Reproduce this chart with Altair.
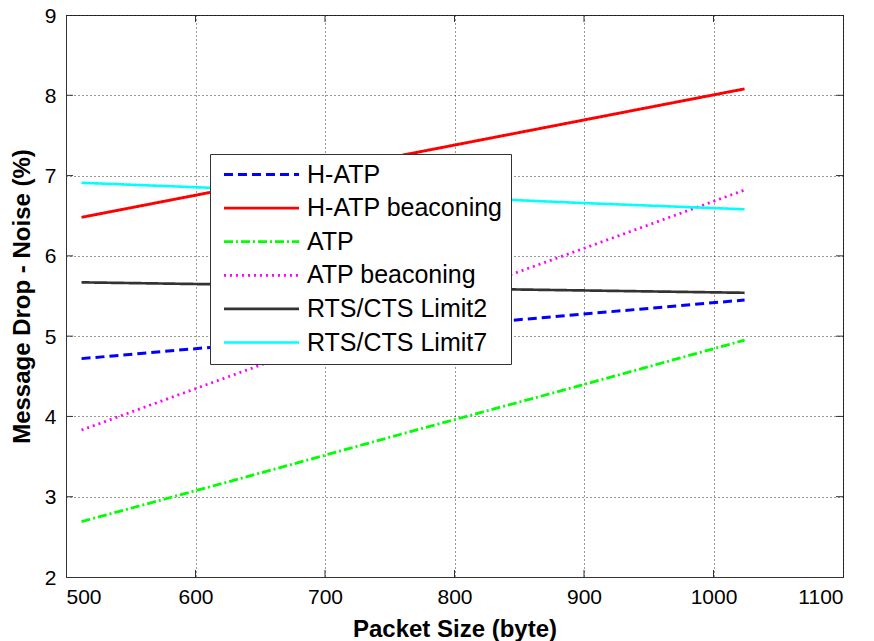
import altair as alt
import pandas as pd

# ---- data ----
packet_size = [512, 640, 768, 896, 1024]
series_names = ["H-ATP", "H-ATP beaconing", "ATP", "ATP beaconing",
                "RTS/CTS Limit2", "RTS/CTS Limit7"]
h_atp = [4.72, 4.90, 5.09, 5.27, 5.45]
h_atp_beaconing = [6.48, 6.88, 7.28, 7.68, 8.08]
atp = [2.69, 3.25, 3.82, 4.38, 4.95]
atp_beaconing = [3.83, 4.58, 5.33, 6.07, 6.82]
rts_cts_limit2 = [5.67, 5.64, 5.60, 5.57, 5.54]
rts_cts_limit7 = [6.91, 6.83, 6.75, 6.66, 6.58]
x_ticks = [500, 600, 700, 800, 900, 1000, 1100]
y_ticks = [2, 3, 4, 5, 6, 7, 8, 9]

series_values = [h_atp, h_atp_beaconing, atp, atp_beaconing,
                 rts_cts_limit2, rts_cts_limit7]

rows = []
for k, (name, vals) in enumerate(zip(series_names, series_values)):
    for x, v in zip(packet_size, vals):
        rows.append({"series": name, "order": k, "size": x, "drop": v})
df = pd.DataFrame(rows)

colors = ["#0000ff", "#ff0000", "#00ff00", "#ff00ff", "#333333", "#00ffff"]
dashes = [[9, 5], [1, 0], [9, 3, 2, 3], [2, 4], [1, 0], [1, 0]]
widths = [3, 2.6, 2, 2, 1.1, 1.5]

W, H = 777, 562
FONT = "Liberation Sans"

xscale = alt.Scale(domain=[500, 1100], nice=False, zero=False)
yscale = alt.Scale(domain=[2, 9], nice=False, zero=False)

legend = alt.Legend(
    orient="none", legendX=144, legendY=139, title=None,
    fillColor="white", strokeColor="#333333", padding=8,
    symbolType="M-4,0H4", symbolSize=352, labelFontSize=25,
    labelFont=FONT, labelColor="black", labelOffset=33,
    rowPadding=7.6, symbolOffset=31, labelLimit=400,
)

lines = alt.Chart(df).mark_line(clip=True).encode(
    x=alt.X("size:Q", scale=xscale,
            axis=alt.Axis(values=x_ticks, title="Packet Size (byte)",
                          format="d", ticks=False, labelPadding=9,
                          titlePadding=10)),
    y=alt.Y("drop:Q", scale=yscale,
            axis=alt.Axis(values=y_ticks, title="Message Drop - Noise (%)",
                          format="d", ticks=False, labelPadding=10,
                          titlePadding=10, labelOffset=1)),
    color=alt.Color("series:N", scale=alt.Scale(domain=series_names, range=colors),
                    legend=legend),
    strokeDash=alt.StrokeDash("series:N",
                              scale=alt.Scale(domain=series_names, range=dashes),
                              legend=legend),
    strokeWidth=alt.StrokeWidth("series:N",
                                scale=alt.Scale(domain=series_names, range=widths),
                                legend=legend),
    order=alt.Order("size:Q"),
    detail="series:N",
)

xt = pd.DataFrame({"t": x_ticks[1:-1]})
yt = pd.DataFrame({"t": y_ticks[1:-1]})
tick_color = "#333333"
xtick_bottom = alt.Chart(xt).mark_rule(color=tick_color).encode(
    x=alt.X("t:Q", scale=xscale), y=alt.value(H), y2=alt.value(H - 7))
xtick_top = alt.Chart(xt).mark_rule(color=tick_color).encode(
    x=alt.X("t:Q", scale=xscale), y=alt.value(0), y2=alt.value(7))
ytick_left = alt.Chart(yt).mark_rule(color=tick_color).encode(
    y=alt.Y("t:Q", scale=yscale), x=alt.value(0), x2=alt.value(7))
ytick_right = alt.Chart(yt).mark_rule(color=tick_color).encode(
    y=alt.Y("t:Q", scale=yscale), x=alt.value(W), x2=alt.value(W - 7))

chart = alt.layer(lines, xtick_bottom, xtick_top, ytick_left, ytick_right).properties(
    width=W, height=H,
    autosize=alt.AutoSizeParams(type="none"),
    padding={"left": 58, "top": 7, "right": 23, "bottom": 64},
).configure_view(
    stroke="#333333", strokeWidth=1
).configure_axis(
    labelFont=FONT, labelFontSize=21, labelColor="black",
    titleFont=FONT, titleFontSize=24, titleFontWeight="bold", titleColor="black",
    domainColor="#333333", domainWidth=1,
    grid=True, gridColor="#000000", gridDash=[1, 3], gridOpacity=0.8, gridWidth=1,
).configure_axisY(
    labelAlign="right", labelBaseline="middle"
)

chart.save("out.html", embed_options={"renderer": "svg", "actions": False})
